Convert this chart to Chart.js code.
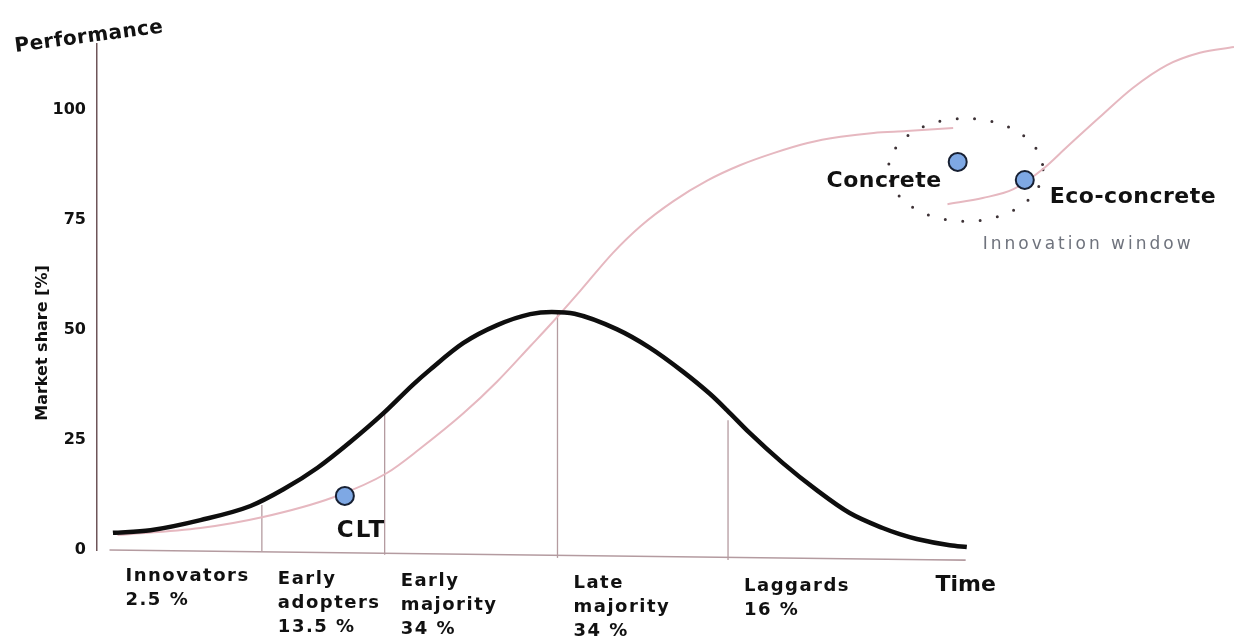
<!DOCTYPE html>
<html lang="en">
<head>
<meta charset="UTF-8">
<title>Diffusion of innovations</title>
<script src="https://cdn.jsdelivr.net/npm/chart.js"></script>
<style>
  html, body { margin: 0; padding: 0; background: #fff; }
</style>
</head>
<body>
<canvas id="myChart" width="1234" height="644"></canvas>
<script>
// market share bell curve (time -> %)
const bellTime  = [1.4, 4.7, 9.1, 13.5, 16.4, 19.4, 22.3, 25.2, 27.8, 29.3, 32.2, 35.2, 38.1, 40.0, 42.0, 45.7, 48.6, 51.5, 53.9, 55.4, 57.4, 60.3, 63.3, 66.2, 69.1, 70.6, 72.1, 75.0, 76.5];
const bellShare = [3.9, 4.5, 6.8, 10.0, 13.8, 18.7, 24.6, 31.1, 37.6, 41.0, 47.0, 51.1, 53.6, 54.1, 53.7, 50.2, 46.0, 40.6, 35.5, 31.8, 26.6, 19.8, 13.6, 8.4, 5.0, 3.6, 2.5, 1.1, 0.7];

// performance S-curve of the current technology
const perfTime  = [1.8, 9.1, 14.6, 20.8, 25.5, 28.4, 32.2, 35.2, 38.1, 39.9, 42.5, 45.4, 47.8, 50.7, 53.7, 56.6, 59.5, 62.5, 65.4, 68.3, 71.2, 75.3];
const perfValue = [3.4, 5.0, 7.5, 12.0, 17.5, 23.0, 31.0, 38.3, 46.3, 51.3, 58.9, 67.6, 73.6, 79.3, 84.0, 87.5, 90.2, 92.5, 93.9, 94.8, 95.2, 95.9];

// performance S-curve of the new technology
const ecoTime  = [74.8, 77.9, 80.6, 83.2, 85.3, 88.2, 91.1, 94.1, 97.0, 100];
const ecoValue = [78.6, 80.0, 82.0, 86.6, 91.6, 98.4, 105.0, 110.2, 113.0, 114.3];

// materials
const pointNames = ['CLT', 'Concrete', 'Eco-concrete'];
const pointTime  = [21.8, 75.7, 81.6];
const pointValue = [12.3, 88.2, 84.1];

// adopter group boundaries
const dividerTime   = [14.5, 25.3, 40.5, 55.5];
const dividerTop    = [10.2, 30.9, 54.1, 29.5];
const dividerBottom = [-0.2, -1.1, -1.8, -2.3];
const baseTime  = [1.1, 76.4];
const baseValue = [0, -2.3];

const adopterGroups = ['Innovators', 'Early adopters', 'Early majority', 'Late majority', 'Laggards'];
const adopterShares = ['2.5 %', '13.5 %', '34 %', '34 %', '16 %'];
const shareTicks = [0, 25, 50, 75, 100];

// innovation window (centre and half extent, in time / value units)
const windowCentre = [76.4, 86.4];
const windowHalf = [6.8, 11.7];

const FONT = '"DejaVu Sans", "Liberation Sans", Arial, sans-serif';
const pink = 'rgba(230, 184, 192, 1)';
const rule = 'rgba(180, 155, 160, 1)';

// where each material label sits relative to its point
const pointLabel = [
  { align: 'left', dx: -8, dy: 35, size: 23, spacing: '2px' },
  { align: 'right', dx: -16, dy: 19, size: 22, spacing: '0.5px' },
  { align: 'left', dx: 25, dy: 17, size: 22, spacing: '0.5px' }
];

function xy(xs, ys) {
  return xs.map((v, i) => ({ x: v, y: ys[i] }));
}

function write(ctx, str, x, y, font, color, align, spacing) {
  ctx.save();
  ctx.font = font;
  ctx.fillStyle = color;
  ctx.textAlign = align || 'left';
  ctx.textBaseline = 'middle';
  ctx.letterSpacing = spacing || '0px';
  ctx.fillText(str, x, y);
  ctx.restore();
}

const innovationWindow = {
  id: 'innovationWindow',
  beforeDatasetsDraw(chart) {
    const { ctx, scales: { x, y } } = chart;
    const cx = x.getPixelForValue(windowCentre[0]);
    const cy = y.getPixelForValue(windowCentre[1]);
    const rx = x.getPixelForValue(windowCentre[0] + windowHalf[0]) - cx;
    const ry = cy - y.getPixelForValue(windowCentre[1] + windowHalf[1]);
    ctx.save();
    ctx.beginPath();
    ctx.ellipse(cx, cy, rx, ry, 0, 0, Math.PI * 2);
    ctx.setLineDash([0, 17.5]);
    ctx.lineCap = 'round';
    ctx.lineWidth = 3;
    ctx.strokeStyle = '#3d3236';
    ctx.stroke();
    ctx.restore();
    write(ctx, 'Innovation window', cx + 17, cy + 75, '17px ' + FONT, '#6f737d', 'left', '3px');
  }
};

const labels = {
  id: 'labels',
  afterDatasetsDraw(chart) {
    const { ctx, scales: { x, y } } = chart;

    // axis titles
    ctx.save();
    ctx.translate(89, 37);
    ctx.rotate(-7.5 * Math.PI / 180);
    write(ctx, 'Performance', 0, 0, 'bold 20px ' + FONT, '#111', 'center', '0.5px');
    ctx.restore();

    ctx.save();
    ctx.translate(43, 343);
    ctx.rotate(-Math.PI / 2);
    write(ctx, 'Market share [%]', 0, 0, 'bold 16px ' + FONT, '#111', 'center');
    ctx.restore();

    // adopter groups under the baseline
    const base = y.getPixelForValue(0);
    const starts = [baseTime[0]].concat(dividerTime);
    adopterGroups.forEach((name, i) => {
      const px = x.getPixelForValue(starts[i]) + 16;
      const py = base + 26 + (px - 100) * 0.0165;
      const lines = name.split(' ').concat(adopterShares[i]);
      lines.forEach((line, j) => {
        write(ctx, line, px, py + j * 24, 'bold 18px ' + FONT, '#111', 'left', '1.5px');
      });
    });

    write(ctx, 'Time', x.getPixelForValue(baseTime[1]), base + 35, 'bold 22px ' + FONT, '#111', 'center');

    // material labels
    const meta = chart.getDatasetMeta(0);
    meta.data.forEach((pt, i) => {
      const p = pointLabel[i];
      write(ctx, pointNames[i], pt.x + p.dx, pt.y + p.dy, 'bold ' + p.size + 'px ' + FONT, '#111', p.align, p.spacing);
    });
  }
};

const lineStyle = { pointRadius: 0, fill: false, clip: false, cubicInterpolationMode: 'monotone' };

const datasets = [
  {
    label: 'Materials',
    data: xy(pointTime, pointValue),
    showLine: false,
    pointRadius: 9,
    pointBackgroundColor: 'rgba(126, 168, 228, 1)',
    pointBorderColor: '#172033',
    pointBorderWidth: 2,
    clip: false,
    order: 0
  },
  Object.assign({
    label: 'Market share',
    data: xy(bellTime, bellShare),
    borderColor: '#0e0e0e',
    borderWidth: 4.5,
    order: 1
  }, lineStyle),
  Object.assign({
    label: 'Performance',
    data: xy(perfTime, perfValue),
    borderColor: pink,
    borderWidth: 2,
    order: 2
  }, lineStyle),
  Object.assign({
    label: 'Performance new',
    data: xy(ecoTime, ecoValue),
    borderColor: pink,
    borderWidth: 2,
    order: 2
  }, lineStyle),
  Object.assign({
    label: 'Baseline',
    data: xy(baseTime, baseValue),
    borderColor: rule,
    borderWidth: 1.6,
    order: 3
  }, lineStyle)
].concat(dividerTime.map((t, i) => Object.assign({
  label: 'Divider ' + (i + 1),
  data: [{ x: t, y: dividerBottom[i] }, { x: t, y: dividerTop[i] }],
  borderColor: rule,
  borderWidth: 1.3,
  order: 3
}, lineStyle)));

const ctx = document.getElementById('myChart').getContext('2d');
const chart = new Chart(ctx, {
  type: 'line',
  data: { datasets: datasets },
  options: {
    responsive: false,
    animation: false,
    layout: { autoPadding: false, padding: { left: 0, right: 0, top: 44, bottom: 94 } },
    plugins: {
      legend: { display: false },
      tooltip: { enabled: false }
    },
    scales: {
      x: { type: 'linear', min: 0, max: 100, display: false },
      y: {
        min: 0,
        max: 115,
        afterFit(scale) { scale.width = 97; },
        afterBuildTicks(scale) { scale.ticks = shareTicks.map(v => ({ value: v })); },
        grid: { display: false, drawTicks: false },
        border: { display: true, color: '#6e5559', width: 1.5 },
        ticks: { padding: 11, color: '#111', font: { family: FONT, weight: 'bold', size: 16 } }
      }
    }
  },
  plugins: [innovationWindow, labels]
});
</script>
</body>
</html>
